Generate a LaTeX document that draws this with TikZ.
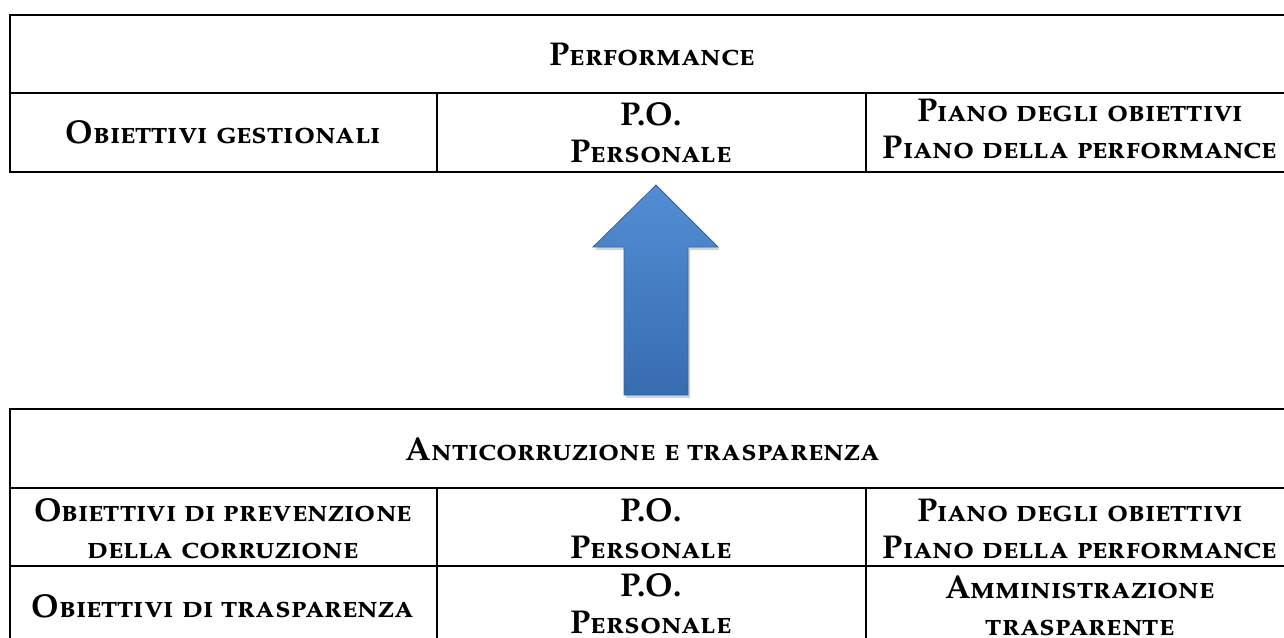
\documentclass[tikz,border=0pt]{standalone}
\usepackage{fontspec}
\setmainfont{TeX Gyre Pagella}
\usetikzlibrary{shadows}
\definecolor{arrtop}{RGB}{82,142,212}
\definecolor{arrbot}{RGB}{56,108,176}
\definecolor{arrline}{RGB}{58,98,156}
\begin{document}
\begin{tikzpicture}[x=1pt,y=-1pt,
  rule/.style={line width=2.6pt},
  cell/.style={font=\fontsize{33}{37}\selectfont\bfseries\scshape, align=center, inner sep=0pt, anchor=base},
]
\useasboundingbox (0,0) rectangle (1284,637);
\begin{scope}
\clip (0,0) rectangle (1284,637);
% top table
\draw[rule] (1300,15) -- (10,15) -- (10,172) -- (1300,172);
\draw[rule] (10,93) -- (1300,93);
\draw[rule] (437,93) -- (437,172);
\draw[rule] (866,93) -- (866,172);
% bottom table
\draw[rule] (10,660) -- (10,409) -- (1300,409);
\draw[rule] (10,488) -- (1300,488);
\draw[rule] (10,566) -- (1300,566);
\draw[rule] (437,488) -- (437,660);
\draw[rule] (866,488) -- (866,660);
\end{scope}
% top texts
\node[cell] (perf) at (652,65) {Performance};
\node[cell] (og) at (223,143) {Obiettivi gestionali};
\node[cell] (po1) at (651,162) {P.O.\\Personale};
\node[cell] (pia1) at (1080,158) {Piano degli obiettivi\\Piano della performance};
% arrow
\path[drop shadow={opacity=0.35,shadow xshift=2pt,shadow yshift=-3pt},
  top color=arrtop, bottom color=arrbot, draw=arrline, line width=0.8pt]
  (656,185) -- (718,247) -- (688,247) -- (688,395) -- (624,395) -- (624,247) -- (593,247) -- cycle;
% bottom texts
\node[cell] (anti) at (643,460) {Anticorruzione e trasparenza};
\node[cell] (prev) at (223,558) {Obiettivi di prevenzione\\della corruzione};
\node[cell] (po2) at (651,558) {P.O.\\Personale};
\node[cell] (pia2) at (1080,558) {Piano degli obiettivi\\Piano della performance};
\node[cell] (tra) at (223,617) {Obiettivi di trasparenza};
\node[cell] (po3) at (651,633) {P.O.\\Personale};
\node[cell] (amm) at (1080,635) {Amministrazione\\trasparente};
\end{tikzpicture}
\end{document}
